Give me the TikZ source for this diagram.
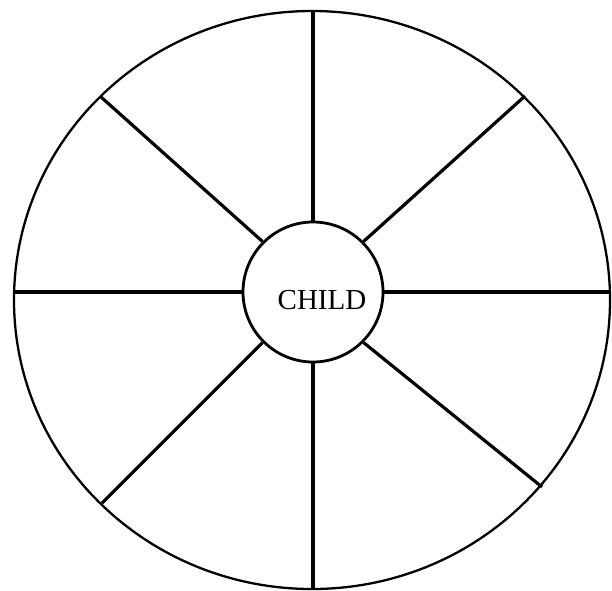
\documentclass[tikz,border=0pt]{standalone}
\usepackage{fontspec}
\setmainfont{Liberation Serif}
\begin{document}
\begin{tikzpicture}[x=1pt,y=-1pt,
  spoke/.style={line width=3.2pt},
  rim/.style={line width=2.3pt},
  hubstyle/.style={circle, draw, line width=2.8pt, minimum size=140pt, inner sep=0pt}]
\useasboundingbox (0,0) rectangle (612,590);
\draw[rim] (312,300) ellipse [x radius=298pt, y radius=289pt];
\node[hubstyle] (hub) at (313,292) {};
\node[font=\fontsize{29}{29}\selectfont, inner sep=0pt] (lbl) at (322,300) {CHILD};
\coordinate (n) at (313,11);
\coordinate (s) at (313,589);
\coordinate (w) at (14,292);
\coordinate (e) at (610,292);
\coordinate (nw) at (101,97);
\coordinate (ne) at (525,96);
\coordinate (sw) at (102,503);
\coordinate (se) at (542,487);
\draw[spoke] (hub.north) -- (n);
\draw[spoke] (hub.south) -- (s);
\draw[spoke] (hub.west) -- (w);
\draw[spoke] (hub.east) -- (e);
\draw[spoke] (hub.135) -- (nw);
\draw[spoke] (hub.45) -- (ne);
\draw[spoke] (hub.225) -- (sw);
\draw[spoke] (hub.315) -- (se);
\end{tikzpicture}
\end{document}
